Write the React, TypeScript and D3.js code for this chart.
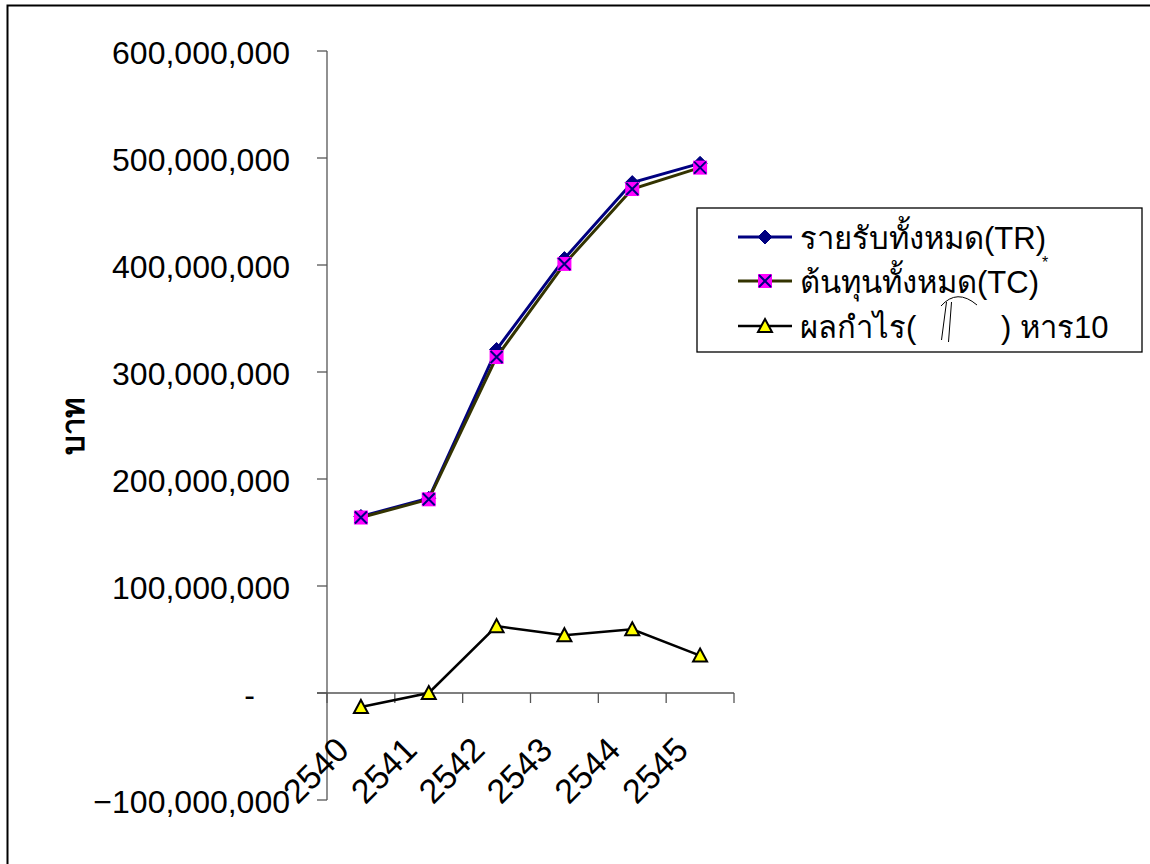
import React from 'react';
import * as d3 from 'd3';

const categories = ['2540', '2541', '2542', '2543', '2544', '2545'];
const revenueTR = [165e6, 182e6, 321e6, 406e6, 477e6, 495e6];
const costTC = [164e6, 181e6, 314e6, 401e6, 471e6, 491e6];
const profitDiv10 = [-13e6, 0, 62.5e6, 54e6, 59.5e6, 35e6];
const yTicks = [-100e6, 0, 100e6, 200e6, 300e6, 400e6, 500e6, 600e6];
const legendNames = ['รายรับทั้งหมด(TR)', 'ต้นทุนทั้งหมด(TC)', 'ผลกำไร(', ') หาร10'];
const yTitle = 'บาท';

const FONT = "'Liberation Sans', Arial, 'DejaVu Sans', sans-serif";
const NAVY = '#000080';
const OLIVE = '#333300';
const MAGENTA = '#FF00FF';
const YELLOW = '#FFFF00';

function Diamond({ cx, cy, s = 7 }: { cx: number; cy: number; s?: number }) {
  return <path d={`M${cx},${cy - s}L${cx + s},${cy}L${cx},${cy + s}L${cx - s},${cy}Z`} fill={NAVY} stroke={NAVY} strokeWidth={1} />;
}
function SquareX({ cx, cy, s = 7 }: { cx: number; cy: number; s?: number }) {
  return (
    <g>
      <rect x={cx - s} y={cy - s} width={2 * s} height={2 * s} fill={MAGENTA} />
      <path d={`M${cx - s + 1},${cy - s + 1}L${cx + s - 1},${cy + s - 1}M${cx + s - 1},${cy - s + 1}L${cx - s + 1},${cy + s - 1}`} stroke={NAVY} strokeWidth={2} />
    </g>
  );
}
function Triangle({ cx, cy, s = 7 }: { cx: number; cy: number; s?: number }) {
  return <path d={`M${cx},${cy - s}L${cx + s},${cy + s - 1}L${cx - s},${cy + s - 1}Z`} fill={YELLOW} stroke="#000" strokeWidth={2} strokeLinejoin="miter" />;
}

export default function App() {
  const x = d3.scaleBand<string>().domain(categories).range([327, 734]).paddingInner(0).paddingOuter(0);
  const y = d3.scaleLinear().domain([-100e6, 600e6]).range([800, 51]);
  const cx = (c: string) => (x(c) as number) + x.bandwidth() / 2;
  const line = d3.line<number>().x((_, i) => cx(categories[i])).y((v) => y(v));
  const fmt = d3.format(',');
  const y0 = y(0);
  const boundaries = [...categories.map((c) => x(c) as number), x.range()[1]];
  const axisColor = '#555';

  const legendX = 697, legendY = 208, legendW = 445, legendH = 144;
  const rowY = [237, 281, 326];

  return (
    <svg width={1150} height={864} style={{ position: 'absolute', left: 0, top: 0 }} fontFamily={FONT}>
      <rect x={0} y={0} width={1150} height={864} fill="#fff" />
      <rect x={7.5} y={5.5} width={1160} height={880} fill="none" stroke="#000" strokeWidth={2} />

      {/* Y axis */}
      <line x1={327} x2={327} y1={y(600e6)} y2={y(-100e6)} stroke={axisColor} strokeWidth={1.3} />
      {yTicks.map((t) => (
        <g key={t}>
          <line x1={317} x2={327} y1={y(t)} y2={y(t)} stroke={axisColor} strokeWidth={1.3} />
          <text x={t === 0 ? 255 : 290} y={y(t)} dy="0.4em" textAnchor="end" fontSize={32} fill="#000">
            {t === 0 ? '-' : fmt(t)}
          </text>
        </g>
      ))}
      <text transform={`translate(84,${426}) rotate(-90)`} textAnchor="middle" fontSize={31} fontWeight="bold" fill="#000">
        {yTitle}
      </text>

      {/* X axis at zero */}
      <line x1={317} x2={x.range()[1]} y1={y0} y2={y0} stroke={axisColor} strokeWidth={1.3} />
      {boundaries.map((b, i) => (
        <line key={i} x1={b} x2={b} y1={y0} y2={y0 + 10} stroke={axisColor} strokeWidth={1.3} />
      ))}
      {categories.map((c) => (
        <text key={c} transform={`translate(${cx(c) - 10},${752}) rotate(-45)`} textAnchor="end" fontSize={34} fill="#000">
          {c}
        </text>
      ))}

      {/* Series */}
      <path d={line(revenueTR) || ''} fill="none" stroke={NAVY} strokeWidth={3} />
      {revenueTR.map((v, i) => <Diamond key={i} cx={cx(categories[i])} cy={y(v)} />)}
      <path d={line(costTC) || ''} fill="none" stroke={OLIVE} strokeWidth={3} />
      {costTC.map((v, i) => <SquareX key={i} cx={cx(categories[i])} cy={y(v)} />)}
      <path d={line(profitDiv10) || ''} fill="none" stroke="#000" strokeWidth={2.5} />
      {profitDiv10.map((v, i) => <Triangle key={i} cx={cx(categories[i])} cy={y(v)} />)}

      {/* Legend */}
      <rect x={legendX} y={legendY} width={legendW} height={legendH} fill="#fff" stroke="#000" strokeWidth={1.3} />
      <line x1={738} x2={792} y1={rowY[0]} y2={rowY[0]} stroke={NAVY} strokeWidth={3} />
      <Diamond cx={765} cy={rowY[0]} />
      <line x1={738} x2={792} y1={rowY[1]} y2={rowY[1]} stroke={OLIVE} strokeWidth={3} />
      <SquareX cx={765} cy={rowY[1]} />
      <line x1={738} x2={792} y1={rowY[2]} y2={rowY[2]} stroke="#000" strokeWidth={2.5} />
      <Triangle cx={765} cy={rowY[2]} />
      <text x={800} y={rowY[0]} dy="0.38em" fontSize={31} fill="#000">{legendNames[0]}</text>
      <text x={800} y={rowY[1]} dy="0.38em" fontSize={31} fill="#000">{legendNames[1]}</text>
      <text x={1042} y={268} fontSize={16} fill="#000">*</text>
      <text x={800} y={rowY[2]} dy="0.38em" fontSize={31} fill="#000">{legendNames[2]}</text>
      <text x={1001} y={rowY[2]} dy="0.38em" fontSize={31} fill="#000">{legendNames[3]}</text>
      {/* hand-drawn pi-like mark */}
      <path d="M941,306 Q957,288 977,305" fill="none" stroke="#000" strokeWidth={1} />
      <path d="M946.5,302 L941.5,340 M951.5,302 L948.5,342" fill="none" stroke="#000" strokeWidth={1} />
    </svg>
  );
}
